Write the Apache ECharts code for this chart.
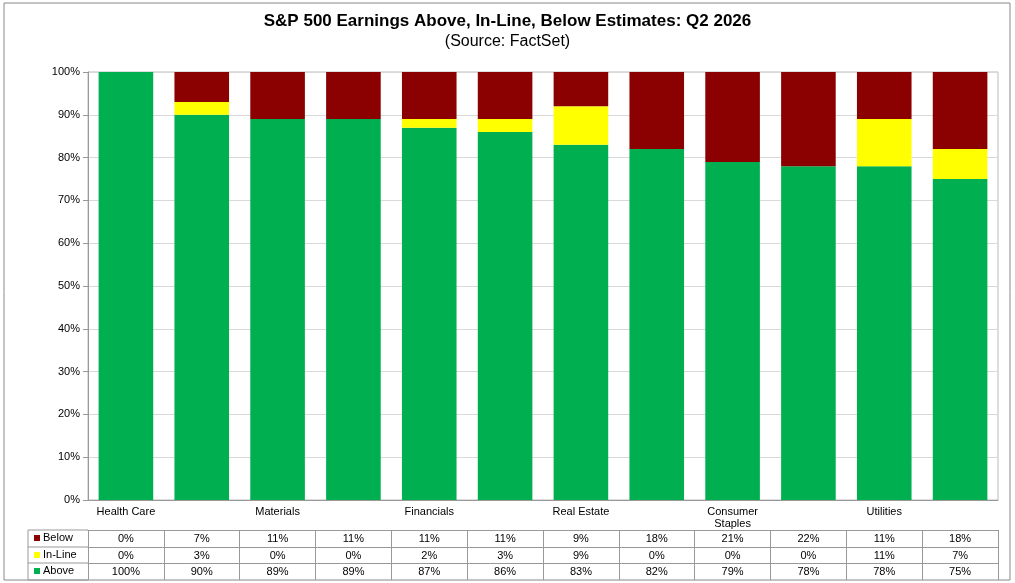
<!DOCTYPE html>
<html><head><meta charset="utf-8">
<script src="https://cdn.jsdelivr.net/npm/echarts@6/dist/echarts.min.js"></script>
<style>html,body{margin:0;padding:0;background:#fff}#c{width:1015px;height:583px}</style>
</head><body><div id="c"></div>
<script>
const categories=['Health Care','Industrials','Materials','Info.\nTechnology','Financials','S&P 500','Real Estate','Comm.\nServices','Consumer\nStaples','Energy','Utilities','Consumer\nDisc.'];
const below=[0,7,11,11,11,11,9,18,21,22,11,18];
const inLine=[0,3,0,0,2,3,9,0,0,0,11,7];
const above=[100,90,89,89,87,86,83,82,79,78,78,75];
const yTicks=[0,10,20,30,40,50,60,70,80,90,100];
const chart=echarts.init(document.getElementById('c'));
const font='Arial, Liberation Sans, sans-serif';
function rowAxis(offset,arr,len){
  return {type:'category',data:categories,position:'bottom',offset:offset,gridIndex:0,
    axisLine:{show:true,lineStyle:{color:'#999'}},
    axisTick:{show:true,length:len,inside:false,lineStyle:{color:'#999'}},
    axisLabel:{margin:3,fontSize:11,color:'#000',fontFamily:font,formatter:(v,i)=>arr[i]+'%'},
    splitLine:{show:false}};
}
chart.setOption({
  animation:false,
  title:{text:'S&P 500 Earnings Above, In-Line, Below Estimates: Q2 2026',subtext:'(Source: FactSet)',left:'center',top:8,itemGap:4,
    textStyle:{fontSize:17,fontWeight:'bold',color:'#000',fontFamily:font},
    subtextStyle:{fontSize:16,color:'#000',fontFamily:font}},
  grid:{left:88,right:17,top:72,bottom:83},
  xAxis:[
    {type:'category',data:categories,axisLine:{lineStyle:{color:'#999'}},
     axisTick:{length:30,lineStyle:{color:'#999'}},
     axisLabel:{fontSize:11,color:'#000',fontFamily:font,margin:6,lineHeight:12,verticalAlign:'top'}},
    rowAxis(30,below,17),rowAxis(47,inLine,16),rowAxis(63,above,17)
  ],
  yAxis:{type:'value',min:0,max:100,interval:10,
    axisLine:{show:true,lineStyle:{color:'#999'}},axisTick:{show:true,lineStyle:{color:'#999'}},
    axisLabel:{formatter:v=>v+'%',fontSize:11,color:'#000',fontFamily:font},
    splitLine:{lineStyle:{color:'#d9d9d9'}}},
  series:[
    {name:'Above',type:'bar',stack:'s',data:above,itemStyle:{color:'#00b050'},barCategoryGap:'28%'},
    {name:'In-Line',type:'bar',stack:'s',data:inLine,itemStyle:{color:'#ffff00'}},
    {name:'Below',type:'bar',stack:'s',data:below,itemStyle:{color:'#8b0000'}}
  ],
  graphic:[
    {type:'rect',shape:{x:4,y:3,width:1006,height:577},style:{fill:'none',stroke:'#888',lineWidth:1}},
    {type:'rect',shape:{x:88,y:72,width:910,height:428},style:{fill:'none',stroke:'#bbb',lineWidth:1}},
    {type:'line',shape:{x1:28,y1:530,x2:88,y2:530},style:{stroke:'#999'}},
    {type:'line',shape:{x1:28,y1:547,x2:88,y2:547},style:{stroke:'#999'}},
    {type:'line',shape:{x1:28,y1:563,x2:88,y2:563},style:{stroke:'#999'}},
    {type:'line',shape:{x1:28,y1:580,x2:88,y2:580},style:{stroke:'#999'}},
    {type:'line',shape:{x1:28,y1:530,x2:28,y2:580},style:{stroke:'#999'}},
    {type:'rect',shape:{x:34,y:535,width:6,height:6},style:{fill:'#8b0000'}},
    {type:'text',x:43,y:538,style:{text:'Below',fontSize:11,fontFamily:font,fill:'#000',verticalAlign:'middle'}},
    {type:'rect',shape:{x:34,y:552,width:6,height:6},style:{fill:'#ffff00'}},
    {type:'text',x:43,y:555,style:{text:'In-Line',fontSize:11,fontFamily:font,fill:'#000',verticalAlign:'middle'}},
    {type:'rect',shape:{x:34,y:568,width:6,height:6},style:{fill:'#00b050'}},
    {type:'text',x:43,y:571,style:{text:'Above',fontSize:11,fontFamily:font,fill:'#000',verticalAlign:'middle'}}
  ]
});
</script></body></html>
